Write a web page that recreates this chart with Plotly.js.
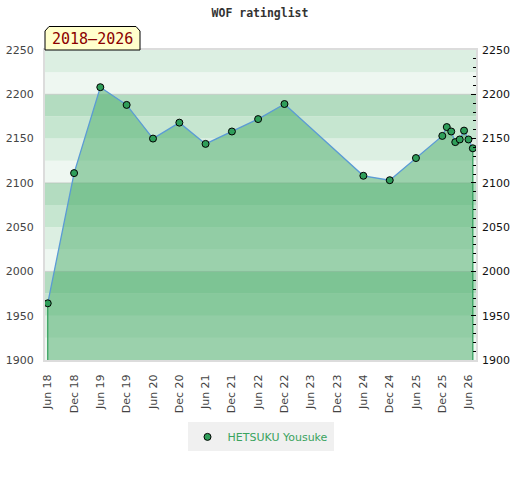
<!DOCTYPE html>
<html>
<head>
<meta charset="utf-8">
<script src="https://cdn.plot.ly/plotly-3.0.1.min.js"></script>
<style>html,body{margin:0;padding:0;background:#fff;}#chart{width:520px;height:480px;}</style>
</head>
<body>
<div id="chart"></div>
<script>
const dates = ['2018-06-01','2018-12-01','2019-06-01','2019-12-01','2020-06-01','2020-12-01','2021-06-01','2021-12-01','2022-06-01','2022-12-01','2024-06-01','2024-12-01','2025-06-01','2025-12-01','2026-01-01','2026-02-01','2026-03-01','2026-04-01','2026-05-01','2026-06-01','2026-07-01'];
const ratings = [1964,2111,2208,2188,2150,2168,2144,2158,2172,2189,2108,2103,2128,2153,2163,2158,2146,2149,2159,2149,2139];
const playerName = 'HETSUKU Yousuke';
const chartTitle = 'WOF ratinglist';
const periodLabel = '2018\u20132026';
const yMin = 1900, yMax = 2250;

const bandColors = ['#eef7f1', '#dcefe2', '#c6e6d0', '#b3dcc0'];
const shapes = [];
for (let v = yMin; v < yMax; v += 25) {
  const q = Math.round(((v % 100) + 100) % 100 / 25);
  shapes.push({type:'rect', xref:'paper', yref:'y', x0:0, x1:1, y0:v, y1:v+25,
    fillcolor: bandColors[q], line:{width:0}, layer:'below'});
}
for (let v = yMin + 100; v < yMax; v += 100) {
  shapes.push({type:'line', xref:'paper', yref:'y', x0:0, x1:1, y0:v, y1:v,
    line:{color:'rgba(180,180,180,0.55)', width:1}, layer:'below'});
}
// label box with chamfered corners
shapes.push({type:'path', xref:'paper', yref:'paper', xsizemode:'pixel', ysizemode:'pixel',
  xanchor:0, yanchor:1, path:'M0,0 L0,19 L4,23.5 L91,23.5 L95,19 L95,0 Z',
  fillcolor:'#ffffcc', line:{color:'#000', width:1}, layer:'above'});

const green = '#2f9e5a';
const traces = [
  {x: dates, y: ratings, type:'scatter', mode:'lines', fill:'tozeroy',
   fillcolor:'rgba(71,172,104,0.5)', line:{color:'#5b9bd5', width:1.3}, showlegend:false, hoverinfo:'skip'},
  {x:[dates[0], dates[0]], y:[yMin, ratings[0]], type:'scatter', mode:'lines',
   line:{color:green, width:1.2}, showlegend:false, hoverinfo:'skip'},
  {x:[dates[dates.length-1], dates[dates.length-1]], y:[yMin, ratings[ratings.length-1]], type:'scatter', mode:'lines',
   line:{color:green, width:1.2}, showlegend:false, hoverinfo:'skip'},
  {x: dates, y: ratings, type:'scatter', mode:'markers',
   marker:{size:7, color:green, line:{color:'#000', width:1}}, showlegend:false},
  {x:[null], y:[null], type:'scatter', mode:'markers', name: playerName, yaxis:'y2',
   marker:{size:7, color:green, line:{color:'#000', width:1}}, showlegend:true}
];

const layout = {
  width:520, height:480,
  margin:{l:45, r:44, t:50, b:120},
  paper_bgcolor:'#fff', plot_bgcolor:'rgba(0,0,0,0)',
  font:{family:'DejaVu Sans', size:11, color:'#444'},
  title:{text: chartTitle, x:0.5, xanchor:'center', y:1-13/480, yanchor:'middle', yref:'container',
    font:{family:'DejaVu Sans Mono', size:11.5, color:'#333', weight:'bold'}},
  xaxis:{type:'date', range:['2018-05-13','2026-07-23'], tick0:'2018-06-01', dtick:'M6',
    tickformat:'%b %y', tickangle:-90, ticks:'', showgrid:false, zeroline:false,
    showline:true, linecolor:'#dcdcdc', linewidth:2, mirror:true,
    ticklabelstandoff:8, tickfont:{family:'DejaVu Sans', size:11, color:'#444'}},
  yaxis:{range:[yMin, yMax], dtick:50, tick0:1900, ticks:'', showgrid:false, zeroline:false,
    showline:true, linecolor:'#dcdcdc', linewidth:2, mirror:true,
    ticklabelstandoff:7, tickfont:{family:'DejaVu Sans', size:11, color:'#444'}},
  yaxis2:{overlaying:'y', side:'right', range:[yMin, yMax], dtick:50, tick0:1900,
    ticks:'inside', ticklen:5, tickcolor:'#000', tickwidth:1, showgrid:false, zeroline:false, showline:false,
    minor:{dtick:10, ticks:'inside', ticklen:3, tickcolor:'#000', showgrid:false},
    ticklabelstandoff:5, tickfont:{family:'DejaVu Sans', size:11, color:'#111'}},
  shapes: shapes,
  annotations:[{text: periodLabel, xref:'paper', yref:'paper', x:0, y:1, xanchor:'left', yanchor:'bottom',
    xshift:47.5, yshift:11.5, showarrow:false, xanchor:'center', yanchor:'middle',
    font:{family:'DejaVu Sans Mono', size:15, color:'#8b0000'}}],
  legend:{orientation:'h', x:0.5, xanchor:'center', y:-0.248, yanchor:'middle',
    bgcolor:'#f0f0f0', borderwidth:0, itemwidth:30,
    font:{family:'DejaVu Sans', size:11, color:'#3aa35e'}},
  showlegend:true
};

Plotly.newPlot('chart', traces, layout, {staticPlot:true, displayModeBar:false});
</script>
</body>
</html>
